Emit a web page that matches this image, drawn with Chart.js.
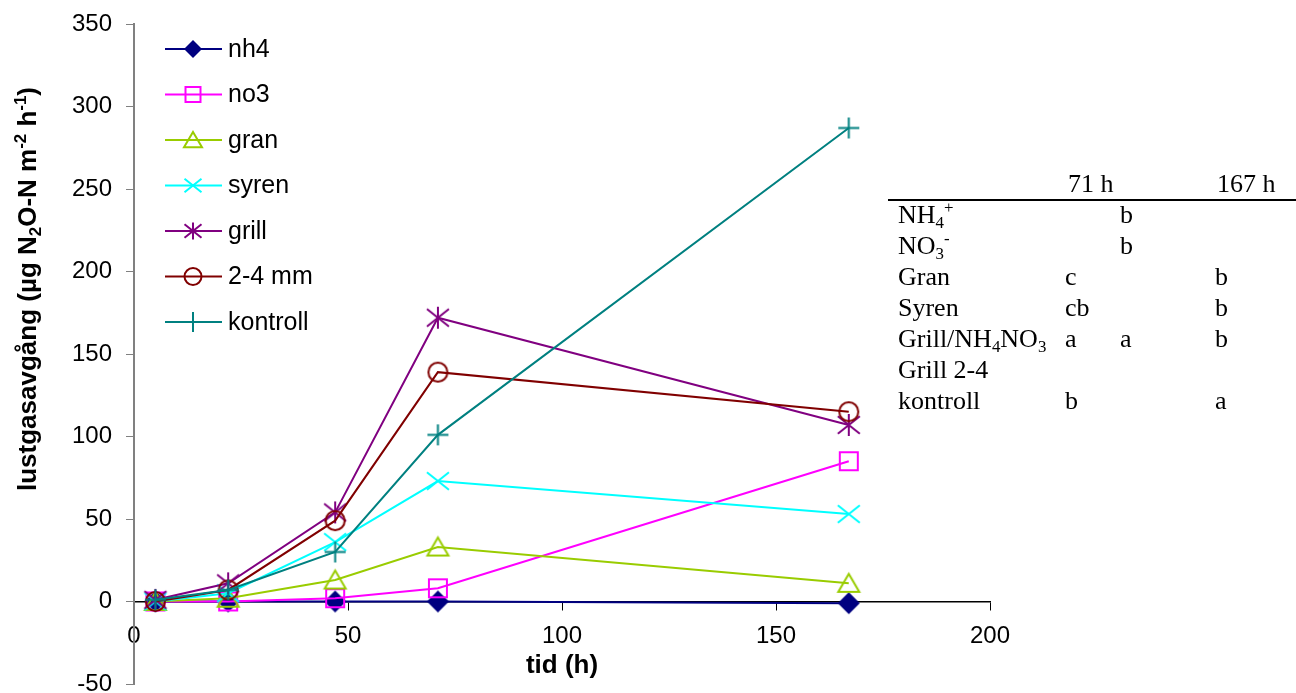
<!DOCTYPE html>
<html>
<head>
<meta charset="utf-8">
<script src="https://cdn.jsdelivr.net/npm/chart.js@4.4.1/dist/chart.umd.min.js"></script>
<style>
  html, body { margin: 0; padding: 0; background: #fff; }
  #wrap { width: 1296px; height: 693px; }
</style>
</head>
<body>
<div id="wrap"><canvas id="n2oChart" width="1296" height="693"></canvas></div>
<script>
// sampling times (h)
const times = [5, 22, 47, 71, 167];

// N2O emission per treatment (ug N2O-N m-2 h-1)
const nh4 = [0, 0, 0, 0, -1];
const no3 = [0, 0, 2, 8, 85];
const gran = [0, 2, 13, 33, 11];
const syren = [0, 5, 36, 73, 53];
const grill = [1, 11, 54, 172, 107];
const mm24 = [0, 7, 49, 139, 115];
const kontroll = [1, 7, 30, 101, 287];

const seriesNames = ['nh4', 'no3', 'gran', 'syren', 'grill', '2-4 mm', 'kontroll'];
const seriesValues = [nh4, no3, gran, syren, grill, mm24, kontroll];

// axis ranges / tick steps
const xRange = [0, 200];
const xStep = 50;
const yRange = [-50, 350];
const yStep = 50;

// significance table next to the plot
const tableHeader = ['71 h', '167 h'];
const tableRows = [
    [['NH', ''], ['4', 'sub'], ['+', 'sup']],
    [['NO', ''], ['3', 'sub'], ['-', 'sup']],
    [['Gran', '']],
    [['Syren', '']],
    [['Grill/NH', ''], ['4', 'sub'], ['NO', ''], ['3', 'sub']],
    [['Grill 2-4', '']],
    [['kontroll', '']],
];
const col71a = ['', '', 'c', 'cb', 'a', '', 'b'];
const col71b = ['b', 'b', '', '', 'a', '', ''];
const col167 = ['', '', 'b', 'b', 'b', '', 'a'];

const yTitle = [['lustgasavgång (µg N', ''], ['2', 'sub'], ['O-N m', ''], ['-2', 'sup'], [' h', ''], ['-1', 'sup'], [')', '']];

const colors = ['#000080', '#FF00FF', '#99CC00', '#00FFFF', '#800080', '#800000', '#008080'];
const markers = ['diamond', 'square', 'triangle', 'x', 'star', 'circle', 'plus'];
const plotSize = [11, 9, 10.5, 11, 11, 9.5, 10.5];
const legendSize = [9, 7.5, 9, 8.5, 8.5, 8.5, 10];

const SANS = "'Liberation Sans', Arial, sans-serif";
const SERIF = "'Liberation Serif', 'Times New Roman', serif";

function drawMarker(ctx, kind, cx, cy, s, color) {
    ctx.save();
    ctx.strokeStyle = color;
    ctx.fillStyle = color;
    ctx.lineWidth = 2;
    ctx.beginPath();
    if (kind === 'diamond') {
        ctx.moveTo(cx, cy - s);
        ctx.lineTo(cx + s, cy);
        ctx.lineTo(cx, cy + s);
        ctx.lineTo(cx - s, cy);
        ctx.closePath();
        ctx.fill();
    } else if (kind === 'square') {
        ctx.rect(cx - s, cy - s, 2 * s, 2 * s);
        ctx.stroke();
    } else if (kind === 'triangle') {
        ctx.moveTo(cx, cy - s * 0.9);
        ctx.lineTo(cx + s, cy + s * 0.8);
        ctx.lineTo(cx - s, cy + s * 0.8);
        ctx.closePath();
        ctx.stroke();
    } else if (kind === 'x') {
        ctx.moveTo(cx - s, cy - s * 0.8);
        ctx.lineTo(cx + s, cy + s * 0.8);
        ctx.moveTo(cx + s, cy - s * 0.8);
        ctx.lineTo(cx - s, cy + s * 0.8);
        ctx.stroke();
    } else if (kind === 'star') {
        ctx.moveTo(cx - s, cy - s * 0.8);
        ctx.lineTo(cx + s, cy + s * 0.8);
        ctx.moveTo(cx + s, cy - s * 0.8);
        ctx.lineTo(cx - s, cy + s * 0.8);
        ctx.moveTo(cx, cy - s);
        ctx.lineTo(cx, cy + s);
        ctx.stroke();
    } else if (kind === 'circle') {
        ctx.arc(cx, cy, s, 0, Math.PI * 2);
        ctx.stroke();
    } else if (kind === 'plus') {
        ctx.moveTo(cx - s, cy);
        ctx.lineTo(cx + s, cy);
        ctx.moveTo(cx, cy - s);
        ctx.lineTo(cx, cy + s);
        ctx.stroke();
    }
    ctx.restore();
}

function markerImage(kind, color, s) {
    const c = document.createElement('canvas');
    const d = Math.ceil(2 * s + 6);
    c.width = d;
    c.height = d;
    drawMarker(c.getContext('2d'), kind, d / 2, d / 2, s, color);
    return c;
}

function richWidth(ctx, segs, size, family, weight) {
    let w = 0;
    segs.forEach(([t, k]) => {
        ctx.font = weight + ' ' + (k ? size * 0.65 : size) + 'px ' + family;
        w += ctx.measureText(t).width;
    });
    return w;
}

function drawRich(ctx, segs, x, y, size, family, weight) {
    ctx.textBaseline = 'alphabetic';
    ctx.textAlign = 'left';
    segs.forEach(([t, k]) => {
        ctx.font = weight + ' ' + (k ? size * 0.65 : size) + 'px ' + family;
        const dy = k === 'sub' ? size * 0.18 : (k === 'sup' ? -size * 0.38 : 0);
        ctx.fillText(t, x, y + dy);
        x += ctx.measureText(t).width;
    });
}

const extras = {
    id: 'extras',
    afterLayout(chart) {
        // pin the plot bottom (value -50) to the same pixel row as the original
        const ys = chart.scales.y;
        const area = chart.chartArea;
        area.bottom = 684;
        area.height = area.bottom - area.top;
        ys.bottom = 684;
        ys.height = ys.bottom - ys.top;
        ys.configure();
    },
    afterDraw(chart) {
        const ctx = chart.ctx;
        ctx.save();
        ctx.fillStyle = '#000';

        // y axis title, rotated
        const tw = richWidth(ctx, yTitle, 26, SANS, 'bold');
        ctx.save();
        ctx.translate(36, 289);
        ctx.rotate(-Math.PI / 2);
        drawRich(ctx, yTitle, -tw / 2, 0, 26, SANS, 'bold');
        ctx.restore();

        // legend inside plot area
        seriesNames.forEach((name, i) => {
            const y = 49 + i * 45.5;
            ctx.strokeStyle = colors[i];
            ctx.lineWidth = 2;
            ctx.beginPath();
            ctx.moveTo(165, y);
            ctx.lineTo(222, y);
            ctx.stroke();
            drawMarker(ctx, markers[i], 193, y, legendSize[i], colors[i]);
            ctx.fillStyle = '#000';
            ctx.font = '25px ' + SANS;
            ctx.textAlign = 'left';
            ctx.textBaseline = 'middle';
            ctx.fillText(name, 228, y + 1);
        });

        // significance table
        ctx.fillStyle = '#000';
        ctx.font = '26px ' + SERIF;
        ctx.textAlign = 'left';
        ctx.textBaseline = 'alphabetic';
        ctx.fillText(tableHeader[0], 1068, 192);
        ctx.fillText(tableHeader[1], 1217, 192);
        ctx.strokeStyle = '#000';
        ctx.lineWidth = 2;
        ctx.beginPath();
        ctx.moveTo(888, 200);
        ctx.lineTo(1296, 200);
        ctx.stroke();
        tableRows.forEach((segs, i) => {
            const by = 223 + i * 31;
            drawRich(ctx, segs, 898, by, 26, SERIF, 'normal');
            ctx.font = '26px ' + SERIF;
            ctx.fillText(col71a[i], 1065, by);
            ctx.fillText(col71b[i], 1120, by);
            ctx.fillText(col167[i], 1215, by);
        });
        ctx.restore();
    }
};

const datasets = seriesNames.map((name, i) => ({
    label: name,
    data: times.map((t, j) => ({ x: t, y: seriesValues[i][j] })),
    borderColor: colors[i],
    backgroundColor: colors[i],
    borderWidth: 2,
    pointStyle: markerImage(markers[i], colors[i], plotSize[i]),
    pointRadius: plotSize[i],
    tension: 0,
    fill: false,
    order: seriesNames.length - 1 - i,
}));

const ctx = document.getElementById('n2oChart').getContext('2d');
new Chart(ctx, {
    type: 'line',
    data: { datasets: datasets },
    options: {
        responsive: false,
        animation: false,
        devicePixelRatio: 1,
        layout: { padding: { left: 0, right: 306, top: 24, bottom: 9 } },
        plugins: {
            legend: { display: false },
            tooltip: { enabled: false },
        },
        scales: {
            x: {
                type: 'linear',
                position: { y: 0 },
                min: xRange[0],
                max: xRange[1],
                ticks: {
                    stepSize: xStep,
                    color: '#000',
                    padding: 14,
                    font: { family: SANS, size: 24, lineHeight: 1.1 },
                    maxRotation: 0,
                },
                grid: { drawOnChartArea: false, tickLength: 8, color: '#000', lineWidth: 1 },
                border: { color: '#000', width: 1.5 },
                title: {
                    display: true,
                    text: 'tid (h)',
                    color: '#000',
                    font: { family: SANS, size: 26, weight: 'bold' },
                    padding: { top: -14, bottom: 0 },
                },
            },
            y: {
                min: yRange[0],
                max: yRange[1],
                ticks: {
                    stepSize: yStep,
                    color: '#000',
                    padding: 14,
                    font: { family: SANS, size: 24, lineHeight: 0.75 },
                },
                grid: { drawOnChartArea: false, tickLength: 8, color: '#808080', lineWidth: 1 },
                border: { color: '#808080', width: 2 },
                afterFit: (scale) => {
                    scale.width = 134;
                    scale.paddingTop = 9;
                    scale.paddingBottom = 9;
                },
            },
        },
    },
    plugins: [extras],
});
</script>
</body>
</html>
